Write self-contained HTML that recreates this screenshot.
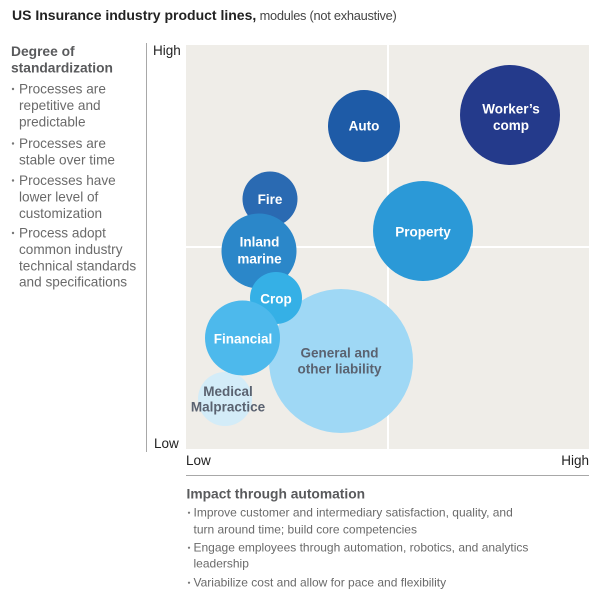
<!DOCTYPE html>
<html>
<head>
<meta charset="utf-8">
<style>
  html, body { margin:0; padding:0; background:#ffffff; }
  body { width:610px; height:614px; overflow:hidden; }
  svg { display:block; }
  text { font-family: "Liberation Sans", "DejaVu Sans", sans-serif; }
</style>
</head>
<body>
<svg width="610" height="614" viewBox="0 0 610 614" xmlns="http://www.w3.org/2000/svg">
  <!-- Title -->
  <text x="12" y="20" fill="#222"><tspan font-size="14" font-weight="bold">US Insurance industry product lines,</tspan><tspan fill="#444" font-size="12.8" letter-spacing="-0.25"> modules (not exhaustive)</tspan></text>

  <!-- Left column -->
  <text x="11" y="56" font-size="13.8" font-weight="bold" fill="#595a5c">Degree of</text>
  <text x="11" y="72.5" font-size="13.8" font-weight="bold" fill="#595a5c">standardization</text>

  <g font-size="13.6" fill="#6a6a6a">
    <circle cx="13" cy="89" r="1.2" fill="#777"/>
    <text x="19" y="93.5">Processes are</text>
    <text x="19" y="109.9">repetitive and</text>
    <text x="19" y="126.3">predictable</text>
    <circle cx="13" cy="143.5" r="1.2" fill="#777"/>
    <text x="19" y="148">Processes are</text>
    <text x="19" y="164.4">stable over time</text>
    <circle cx="13" cy="180.5" r="1.2" fill="#777"/>
    <text x="19" y="185">Processes have</text>
    <text x="19" y="201.4">lower level of</text>
    <text x="19" y="217.8">customization</text>
    <circle cx="13" cy="233" r="1.2" fill="#777"/>
    <text x="19" y="237.5">Process adopt</text>
    <text x="19" y="253.9">common industry</text>
    <text x="19" y="270.3">technical standards</text>
    <text x="19" y="286.7">and specifications</text>
  </g>

  <!-- Vertical separator line -->
  <rect x="146" y="43" width="1" height="409" fill="#a8a8a8"/>

  <!-- Plot area -->
  <rect x="186" y="45" width="403" height="404" fill="#efede8"/>
  <rect x="387" y="45" width="2" height="404" fill="#ffffff"/>
  <rect x="186" y="246" width="403" height="2" fill="#ffffff"/>

  <!-- Axis labels -->
  <text x="153" y="55" font-size="13.5" fill="#222">High</text>
  <text x="154" y="448" font-size="13.5" fill="#222">Low</text>
  <text x="186" y="465" font-size="13.5" fill="#222">Low</text>
  <text x="589" y="465" font-size="13.5" fill="#222" text-anchor="end">High</text>
  <rect x="186" y="475" width="403" height="1" fill="#a8a8a8"/>

  <!-- Bubbles -->
  <circle cx="341" cy="361" r="72" fill="#9fd8f5"/>
  <circle cx="225" cy="399" r="27" fill="#d3ecf8"/>
  <circle cx="364" cy="126" r="36" fill="#1e5ba7"/>
  <circle cx="510" cy="115" r="50" fill="#243a8b"/>
  <circle cx="423" cy="231" r="50" fill="#2b99d7"/>
  <circle cx="270" cy="199" r="27.5" fill="#2a6ab2"/>
  <circle cx="259" cy="251" r="37.5" fill="#2b87c9"/>
  <circle cx="276" cy="298" r="26" fill="#35b0e6"/>
  <circle cx="242.5" cy="338" r="37.5" fill="#4db9ec"/>

  <!-- Bubble labels -->
  <g font-size="13.5" font-weight="bold" fill="#ffffff" text-anchor="middle">
    <text x="364" y="130.5">Auto</text>
    <text x="511" y="113.5">Worker’s</text>
    <text x="511" y="130">comp</text>
    <text x="423" y="236.5">Property</text>
    <text x="270" y="204">Fire</text>
    <text x="259.5" y="246.7">Inland</text>
    <text x="259.5" y="263.3">marine</text>
    <text x="276" y="303.3">Crop</text>
    <text x="243" y="343.3">Financial</text>
  </g>
  <g font-size="13.5" font-weight="bold" fill="#5a6270" text-anchor="middle">
    <text x="339.5" y="357.3">General and</text>
    <text x="339.5" y="373.3">other liability</text>
    <text x="228" y="396">Medical</text>
    <text x="228" y="411.7">Malpractice</text>
  </g>

  <!-- Bottom section -->
  <text x="186.5" y="498.5" font-size="13.8" font-weight="bold" fill="#595a5c">Impact through automation</text>
  <g font-size="12" fill="#6a6a6a">
    <circle cx="189" cy="512.7" r="1.1" fill="#777"/>
    <text x="193.5" y="516.7">Improve customer and intermediary satisfaction, quality, and</text>
    <text x="193.5" y="533.3">turn around time; build core competencies</text>
    <circle cx="189" cy="547.7" r="1.1" fill="#777"/>
    <text x="193.5" y="551.7">Engage employees through automation, robotics, and analytics</text>
    <text x="193.5" y="567.7">leadership</text>
    <circle cx="189" cy="582.7" r="1.1" fill="#777"/>
    <text x="193.5" y="586.7">Variabilize cost and allow for pace and flexibility</text>
  </g>
</svg>
</body>
</html>
